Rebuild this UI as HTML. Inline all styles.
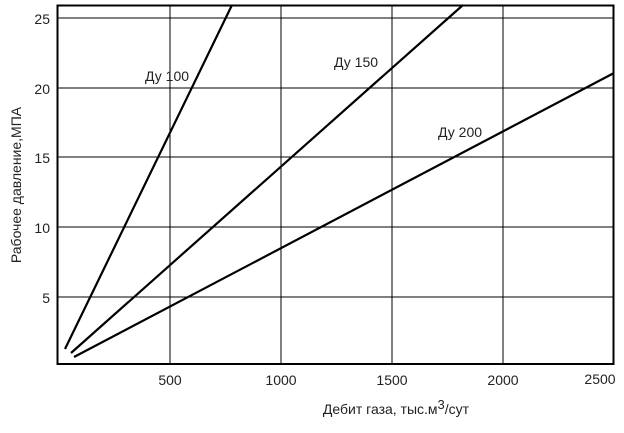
<!DOCTYPE html>
<html><head><style>body{margin:0;background:#fff}</style></head><body>
<svg width="624" height="428" xmlns="http://www.w3.org/2000/svg" font-family="Liberation Sans, sans-serif" font-size="14" fill="#222">
<g stroke="#000" stroke-width="1">
<line x1="170" y1="5" x2="170" y2="364"/><line x1="281" y1="5" x2="281" y2="364"/><line x1="392" y1="5" x2="392" y2="364"/><line x1="503" y1="5" x2="503" y2="364"/>
<line x1="57" y1="18" x2="614" y2="18"/><line x1="57" y1="88" x2="614" y2="88"/><line x1="57" y1="157" x2="614" y2="157"/><line x1="57" y1="227" x2="614" y2="227"/><line x1="57" y1="297" x2="614" y2="297"/>
</g>
<rect x="57.5" y="5.5" width="556" height="358.5" fill="none" stroke="#000" stroke-width="2"/>
<g stroke="#000" stroke-width="2.2">
<line x1="65" y1="349" x2="232" y2="5"/>
<line x1="71" y1="353" x2="463" y2="5"/>
<line x1="74" y1="357" x2="614" y2="73"/>
</g>
<text x="145" y="81">Ду 100</text><text x="334" y="67">Ду 150</text><text x="438" y="137">Ду 200</text>
<g text-anchor="end"><text x="50" y="24">25</text><text x="50" y="94">20</text><text x="50" y="163">15</text><text x="50" y="233">10</text><text x="50" y="303">5</text></g>
<g text-anchor="middle"><text x="170" y="385">500</text><text x="281" y="385">1000</text><text x="392" y="385">1500</text><text x="503" y="385">2000</text><text x="600" y="384">2500</text></g>
<text x="396" y="414" text-anchor="middle">Дебит газа, тыс.м<tspan dy="-5" font-size="13">3</tspan><tspan dy="5">/сут</tspan></text>
<text transform="translate(21,185) rotate(-90)" text-anchor="middle">Рабочее давление,МПА</text>
</svg>
</body></html>
